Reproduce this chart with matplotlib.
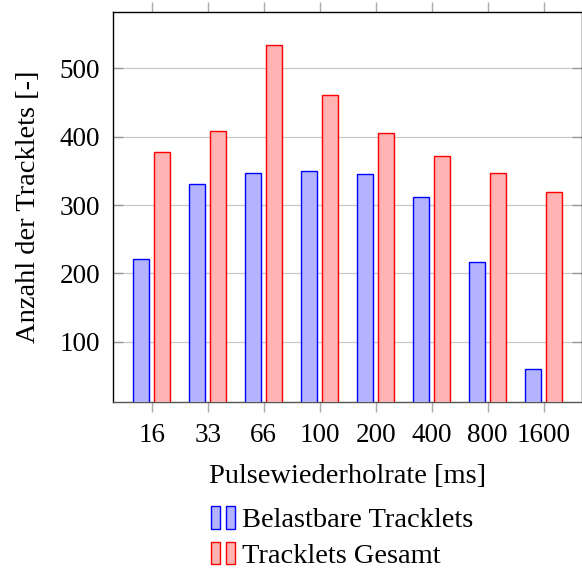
import matplotlib
matplotlib.use("Agg")
import matplotlib.pyplot as plt
import numpy as np
from matplotlib.patches import Rectangle
from matplotlib.legend_handler import HandlerBase

categories = ["16", "33", "66", "100", "200", "400", "800", "1600"]
belastbar = [221, 331, 347, 350, 345, 312, 217, 60]
gesamt = [378, 409, 534, 461, 405, 372, 347, 319]
series_labels = ["Belastbare Tracklets", "Tracklets Gesamt"]
xlabel = "Pulsewiederholrate [ms]"
ylabel = "Anzahl der Tracklets [-]"
yticks = [100, 200, 300, 400, 500]

plt.rcParams['font.family'] = ['Liberation Serif', 'DejaVu Serif']
FS_TICK = 19.5
FS_LAB = 20.5
FS_LEG = 20.5

W, H = 582, 568
fig = plt.figure(figsize=(W / 100, H / 100), dpi=100)
ax = fig.add_axes([113 / W, 166.3 / H, 469.3 / W, 389.4 / H])

x = np.arange(len(categories))
bw = 0.286
off = 0.1875
blue_fill, blue_edge = "#b3b3ff", "#0000ff"
red_fill, red_edge = "#ffb3b3", "#ff0000"
b1 = ax.bar(x - off, belastbar, bw, color=blue_fill, edgecolor=blue_edge, linewidth=1.0, zorder=3)
b2 = ax.bar(x + off, gesamt, bw, color=red_fill, edgecolor=red_edge, linewidth=1.0, zorder=3)

ax.set_xlim(-0.69, len(categories) - 1 + 0.69)
ax.set_ylim(12.2, 582)
ax.set_xticks(x)
ax.set_xticklabels(categories, fontsize=FS_TICK)
ax.set_yticks(yticks)
ax.set_yticklabels([str(v) for v in yticks], fontsize=FS_TICK)
ax.yaxis.grid(True, color="#c8c8c8", linewidth=0.9, zorder=0)
ax.set_axisbelow(True)

ax.tick_params(axis='x', direction='out', length=7.2, width=1.0, color="#aaaaaa",
               top=True, bottom=True, pad=8)
ax.tick_params(axis='y', direction='in', length=7.2, width=1.0, color="#999999",
               left=True, right=True, pad=9.4)
for s in ax.spines.values():
    s.set_linewidth(1.0)
    s.set_color("black")
ax.spines['bottom'].set_color("#555555")

ax.set_xlabel(xlabel, fontsize=FS_LAB, labelpad=12)
ax.set_ylabel(ylabel, fontsize=FS_LAB, labelpad=13)


class TwoBars(HandlerBase):
    def __init__(self, fill, edge):
        super().__init__()
        self.fill = fill
        self.edge = edge

    def create_artists(self, legend, orig_handle, xdescent, ydescent, width, height, fontsize, trans):
        w = width * 0.36
        gap = width - 2 * w
        arts = []
        for i in range(2):
            r = Rectangle((-xdescent + i * (w + gap), -ydescent), w, height,
                          facecolor=self.fill, edgecolor=self.edge, linewidth=1.0, transform=trans)
            arts.append(r)
        return arts


fs_px = FS_LEG * 100 / 72
leg = fig.legend([b1, b2], series_labels, loc='upper left',
                 bbox_to_anchor=(211 / W, (H - 506) / H), frameon=False, fontsize=FS_LEG,
                 borderpad=0, borderaxespad=0, handlelength=24 / fs_px, handleheight=24 / fs_px,
                 handletextpad=7 / fs_px, labelspacing=0.3,
                 handler_map={b1: TwoBars(blue_fill, blue_edge), b2: TwoBars(red_fill, red_edge)})

fig.savefig("out.png", dpi=100)
